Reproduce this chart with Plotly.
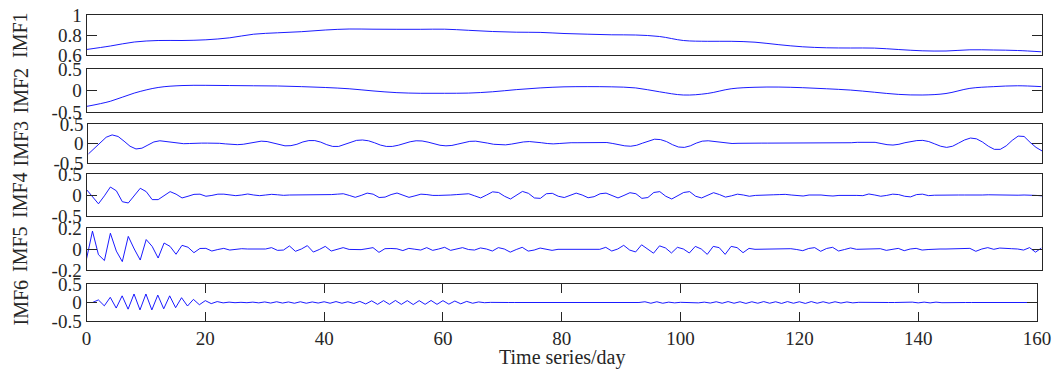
import plotly.graph_objects as go

# ---------------- data ----------------
days = list(range(161))
days_coarse = list(range(0, 161, 4))

imf1 = [0.655, 0.69, 0.73, 0.745, 0.745, 0.752, 0.772, 0.808, 0.822, 0.833,
        0.85, 0.86, 0.858, 0.857, 0.857, 0.858, 0.847, 0.835, 0.828, 0.826,
        0.815, 0.808, 0.802, 0.80, 0.785, 0.745, 0.737, 0.737, 0.728, 0.703,
        0.682, 0.672, 0.670, 0.669, 0.655, 0.642, 0.640, 0.652, 0.650, 0.645,
        0.632]

imf2 = [-0.37, -0.25, -0.06, 0.07, 0.115, 0.12, 0.115, 0.11, 0.105, 0.09,
        0.07, 0.04, -0.01, -0.05, -0.065, -0.065, -0.06, -0.03, 0.02, 0.06,
        0.085, 0.09, 0.085, 0.06, -0.03, -0.105, -0.07, 0.04, 0.075, 0.08,
        0.065, 0.04, 0.01, -0.04, -0.09, -0.105, -0.07, 0.05, 0.09, 0.11,
        0.09]

imf3 = [-0.27, -0.13, 0.03, 0.16, 0.22, 0.18, 0.06, -0.07, -0.14, -0.12,
        -0.04, 0.04, 0.07, 0.05, 0.02, 0.0, -0.005, 0.0, 0.01, 0.01,
        0.01, 0.01, 0.005, -0.01, -0.025, -0.03, -0.02, 0.01, 0.045, 0.06,
        0.05, 0.015, -0.035, -0.06, -0.055, -0.02, 0.04, 0.075, 0.075, 0.035,
        -0.03, -0.075, -0.075, -0.03, 0.035, 0.08, 0.09, 0.07, 0.02, -0.04,
        -0.075, -0.075, -0.045, 0.0, 0.045, 0.07, 0.065, 0.035, -0.01, -0.045,
        -0.06, -0.05, -0.015, 0.025, 0.055, 0.06, 0.04, 0.01, -0.02, -0.035,
        -0.035, -0.015, 0.015, 0.04, 0.05, 0.04, 0.02, 0.0, -0.01, 0.0,
        0.015, 0.02, 0.02, 0.02, 0.02, 0.025, 0.03, 0.025, 0.0, -0.035,
        -0.06, -0.07, -0.045, 0.01, 0.07, 0.11, 0.1, 0.05, -0.03, -0.09,
        -0.1, -0.06, 0.01, 0.06, 0.07, 0.05, 0.025, 0.01, 0.0, 0.005,
        0.01, 0.01, 0.01, 0.01, 0.01, 0.01, 0.01, 0.01, 0.01, 0.01,
        0.01, 0.01, 0.01, 0.01, 0.01, 0.015, 0.02, 0.02, 0.02, 0.03,
        0.035, 0.04, 0.03, 0.0, -0.03, -0.04, -0.02, 0.02, 0.055, 0.075,
        0.08, 0.05, -0.01, -0.07, -0.1, -0.07, 0.01, 0.09, 0.14, 0.12,
        0.04, -0.07, -0.15, -0.15, -0.06, 0.08, 0.19, 0.18, 0.03, -0.1,
        -0.19]

imf4 = [0.13, -0.03, -0.21, -0.02, 0.19, 0.1, -0.16, -0.19, -0.02, 0.16,
        0.08, -0.11, -0.11, -0.01, 0.08, 0.02, -0.07, -0.03, 0.015, 0.02,
        -0.03, -0.01, 0.02, 0.02, -0.005, -0.016, 0.0, 0.024, 0.0, -0.016,
        0.0, 0.016, 0.005, -0.008, 0.0, 0.0, 0.0, 0.0, 0.0, 0.0,
        0.0, 0.01, 0.02, 0.03, -0.01, -0.055, -0.01, 0.045, 0.02, -0.06,
        -0.05, 0.01, 0.047, 0.0, -0.056, -0.02, 0.02, 0.01, -0.01, -0.01,
        -0.01, 0.0, 0.01, 0.025, 0.03, -0.02, -0.07, 0.0, 0.075, 0.06,
        -0.03, -0.095, -0.01, 0.085, 0.04, -0.07, -0.08, 0.03, 0.04, -0.03,
        -0.06, 0.0, 0.045, 0.0, -0.065, -0.04, 0.03, 0.045, -0.02, -0.07,
        -0.01, 0.055, 0.03, -0.08, -0.06, 0.06, 0.08, -0.03, -0.095, -0.02,
        0.06, 0.08, -0.03, -0.07, 0.0, 0.055, 0.01, -0.05, -0.02, 0.02,
        0.0, -0.03, -0.01, 0.0, 0.0, 0.005, 0.01, 0.015, 0.0, -0.015,
        -0.024, 0.0, 0.008, 0.0, -0.015, -0.024, -0.01, -0.005, -0.005, -0.01,
        -0.016, 0.024, 0.0, -0.03, -0.01, 0.02, 0.01, -0.03, -0.045, 0.01,
        0.02, -0.015, -0.005, 0.0, 0.0, 0.005, 0.0, 0.0, -0.005, 0.0,
        0.0, 0.005, 0.0, 0.0, 0.0, 0.0, -0.005, 0.0, 0.0, -0.01,
        -0.02]

imf5 = [-0.095, 0.17, -0.054, -0.11, 0.15, -0.02, -0.12, 0.12, 0.0, -0.105,
        0.09, 0.025, -0.086, 0.057, 0.025, -0.05, 0.035, 0.017, -0.035, 0.005,
        0.006, -0.019, -0.005, 0.006, -0.01, -0.005, 0.003, 0.0, 0.0, 0.0,
        0.0, 0.013, -0.013, -0.01, 0.029, -0.022, 0.0, 0.032, -0.029, -0.005,
        0.025, -0.019, -0.005, 0.013, -0.004, -0.006, -0.006, 0.003, 0.013, -0.032,
        0.003, 0.005, 0.002, -0.015, 0.006, -0.002, -0.01, 0.013, -0.013, 0.0,
        0.016, -0.013, 0.0, 0.013, -0.005, -0.01, 0.01, 0.0, -0.019, 0.013,
        0.0, -0.03, -0.005, 0.016, -0.02, -0.01, 0.009, -0.005, -0.013, -0.003,
        -0.003, -0.003, -0.003, -0.003, -0.003, -0.003, -0.003, 0.016, -0.019, 0.0,
        0.035, -0.01, -0.028, 0.04, 0.0, -0.04, 0.03, 0.01, -0.038, 0.016,
        0.0, -0.038, 0.025, 0.0, -0.051, 0.025, 0.013, -0.051, 0.025, 0.013,
        -0.035, 0.006, -0.003, -0.003, -0.003, -0.003, -0.003, -0.003, 0.003, -0.005,
        -0.016, 0.005, 0.013, -0.022, 0.005, 0.016, -0.019, -0.005, 0.01, -0.003,
        -0.002, -0.002, -0.002, 0.003, -0.013, 0.0, 0.006, -0.016, 0.0, 0.006,
        -0.01, -0.005, 0.0, 0.0, 0.0, 0.0, 0.0, 0.004, 0.006, -0.022,
        0.0, 0.013, -0.003, 0.009, 0.003, 0.003, 0.0, -0.01, 0.013, -0.03,
        0.01]

imf6 = [0.0, 0.0, 0.07, -0.09, 0.14, -0.15, 0.18, -0.18, 0.23, -0.2,
        0.23, -0.2, 0.2, -0.17, 0.18, -0.14, 0.13, -0.095, 0.085, -0.06,
        0.05, -0.03, 0.025, -0.01, 0.01, -0.005, 0.005, -0.005, 0.01, -0.01,
        0.015, -0.015, 0.02, -0.015, 0.015, -0.02, 0.02, -0.02, 0.015, -0.015,
        0.02, -0.02, 0.025, -0.02, 0.02, -0.025, 0.03, -0.04, 0.045, -0.05,
        0.05, -0.05, 0.055, -0.05, 0.05, -0.055, 0.05, -0.05, 0.055, -0.05,
        0.05, -0.045, 0.04, -0.035, 0.03, -0.02, 0.015, -0.005, 0.003, -0.003,
        0.0, 0.0, 0.0, 0.0, 0.0, 0.0, 0.0, 0.0, 0.005, -0.005,
        0.005, -0.005, 0.005, -0.005, 0.0, 0.0, 0.0, 0.0, 0.0, 0.0,
        0.0, 0.0, 0.0, 0.0, 0.02, -0.02, 0.02, -0.02, 0.01, -0.01,
        0.005, -0.005, 0.005, -0.01, 0.01, -0.015, 0.02, -0.02, 0.025, -0.02,
        0.02, -0.025, 0.02, -0.02, 0.025, -0.02, 0.02, -0.025, 0.025, -0.02,
        0.02, -0.025, 0.025, -0.02, 0.02, -0.02, 0.02, -0.015, 0.015, -0.01,
        0.005, 0.0, 0.0, 0.0, 0.0, 0.0, 0.0, 0.005, -0.005, 0.01,
        -0.01, 0.01, -0.01, 0.01, -0.005, 0.0, 0.0, 0.0, 0.0, 0.0,
        0.0, 0.0, 0.0, 0.0, 0.0, 0.0, 0.0, 0.0, 0.0, 0.0,
        0.0]

panel_labels = ["IMF1", "IMF2", "IMF3", "IMF4", "IMF5", "IMF6"]
y_ranges = [[0.6, 1.0], [-0.5, 0.5], [-0.5, 0.5], [-0.5, 0.5], [-0.2, 0.2], [-0.5, 0.5]]
y_tickvals = [[0.6, 0.8, 1.0], [-0.5, 0, 0.5], [-0.5, 0, 0.5], [-0.5, 0, 0.5], [-0.2, 0, 0.2], [-0.5, 0, 0.5]]
y_ticktext = [["0.6", "0.8", "1"], ["-0.5", "0", "0.5"], ["-0.5", "0", "0.5"],
              ["-0.5", "0", "0.5"], ["-0.2", "0", "0.2"], ["-0.5", "0", "0.5"]]
x_tickvals = [0, 20, 40, 60, 80, 100, 120, 140, 160]
x_title = "Time series/day"

# ---------------- layout geometry (pixels) ----------------
W, H = 1054, 372
panel_px = [(15, 55), (69, 112), (124, 163), (174, 216), (228, 270), (284, 321)]
panel_x_px = [(86.5, 1041.5), (86.5, 1041.5), (88.3, 1042), (86.5, 1042), (86.5, 1041.5), (86.5, 1037)]

FONT = "Liberation Serif"
AXC = "#262626"
LINEC = "#0000ff"

series = [(days_coarse, imf1, "spline"), (days_coarse, imf2, "spline"),
          (days, imf3, "linear"), (days, imf4, "linear"),
          (days, imf5, "linear"), (days, imf6, "linear")]

fig = go.Figure()
layout = dict(
    template="none",
    width=W, height=H, autosize=False,
    margin=dict(l=0, r=0, t=0, b=0, pad=0),
    paper_bgcolor="white", plot_bgcolor="white",
    showlegend=False,
    font=dict(family=FONT, size=19, color=AXC),
)

annotations = []
for i in range(6):
    k = "" if i == 0 else str(i + 1)
    xs, ys, shape = series[i]
    fig.add_trace(go.Scatter(x=xs, y=ys, mode="lines",
                             line=dict(color=LINEC, width=0.9, shape=shape),
                             xaxis="x" + k, yaxis="y" + k, hoverinfo="skip"))
    top, bot = panel_px[i]
    x0, x1 = panel_x_px[i]
    last = (i == 5)
    layout["xaxis" + k] = dict(
        domain=[x0 / W, x1 / W], range=[0, 160], anchor="y" + k, automargin=False,
        showline=True, mirror="ticks" if last else True, linecolor=AXC, linewidth=1,
        showgrid=False, zeroline=False,
        ticks="inside" if last else "", ticklen=9, tickcolor=AXC, tickwidth=1,
        tickvals=x_tickvals if last else [],
        showticklabels=last,
        tickfont=dict(family=FONT, size=19, color=AXC),
    )
    layout["yaxis" + k] = dict(
        domain=[1 - bot / H, 1 - top / H], range=y_ranges[i], anchor="x" + k, automargin=False,
        showline=True, mirror="ticks", linecolor=AXC, linewidth=1,
        showgrid=False, zeroline=False,
        ticks="inside", ticklen=10, tickcolor=AXC, tickwidth=1,
        tickvals=y_tickvals[i], ticktext=y_ticktext[i],
        tickfont=dict(family=FONT, size=19, color=AXC),
    )
    annotations.append(dict(
        text=panel_labels[i], xref="paper", yref="paper",
        x=20 / W, y=1 - (top + bot) / 2 / H, xanchor="center", yanchor="middle",
        textangle=-90, showarrow=False,
        font=dict(family=FONT, size=20, color=AXC),
    ))

annotations.append(dict(
    text=x_title, xref="paper", yref="paper",
    x=562 / W, y=1 - 357 / H, xanchor="center", yanchor="middle",
    showarrow=False, font=dict(family=FONT, size=20, color=AXC),
))
layout["annotations"] = annotations
fig.update_layout(**layout)
fig.write_html("out.html")
